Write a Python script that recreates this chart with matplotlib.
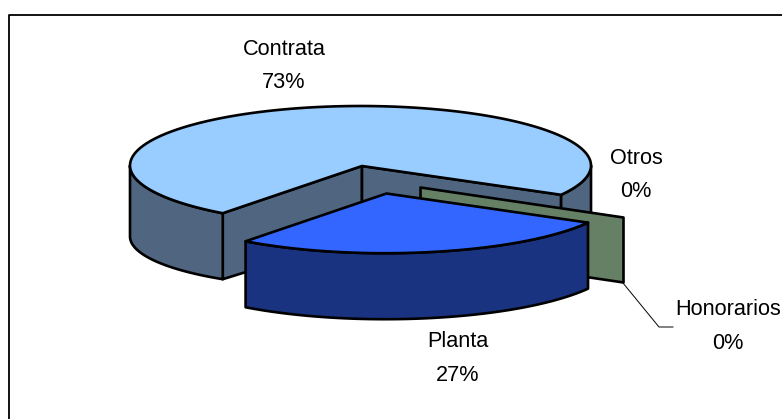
import numpy as np
import matplotlib
matplotlib.use("Agg")
import matplotlib.pyplot as plt
from matplotlib.patches import Polygon

plt.rcParams['font.family'] = ['Liberation Sans', 'DejaVu Sans']

categories = ['Contrata', 'Planta', 'Honorarios', 'Otros']
shares = [73, 27, 0, 0]
pct_labels = ['73%', '27%', '0%', '0%']

top_colors = ['#99CCFF', '#3366FF', '#668066', '#808080']
side_colors = ['#506680', '#1A3380', '#668066', '#506680']

W, H = 782, 419
fig = plt.figure(figsize=(W / 100, H / 100), dpi=100)
ax = fig.add_axes([0, 0, 1, 1])
ax.set_xlim(0, W)
ax.set_ylim(H, 0)
ax.axis('off')

CX, CY, A, B, D = 360.5, 165.5, 230.5, 59.5, 69
START = 29.5   # clockwise from 3 o'clock, where the Planta slice begins
LW = 1.9

planta_span = shares[1] / sum(shares) * 360
a0 = START
a1 = START + planta_span


def rim(t0, t1, ox=0, oy=0, s=1.0, n=120):
    t = np.radians(np.linspace(t0, t1, n))
    return np.column_stack([CX + ox + s * A * np.cos(t), CY + oy + s * B * np.sin(t)])


def poly(pts, fc, z):
    ax.add_patch(Polygon(pts, closed=True, fc=fc, ec='black', lw=LW,
                         joinstyle='round', zorder=z))


def down(pts, d=D):
    d = np.asarray(d, dtype=float)
    return pts + np.column_stack([np.zeros(len(pts)), d * np.ones(len(pts))])


# frame: open on the right and at the bottom
ax.plot([8.5, 8.5, W + 2], [H + 2, 15, 15], color='black', lw=1.3, zorder=1)

# Contrata
apex = np.array([[CX + 1.5, CY + 0.5]])
top_c = rim(a1, 360 + a0)
r_left = top_c[:1]
r_right = top_c[-1:]
poly(np.vstack([apex, r_left, down(r_left, 66), down(apex, 70)]), side_colors[0], 2)
poly(np.vstack([apex, r_right, down(r_right, 68), down(apex, 70)]), side_colors[0], 2)
front_l = rim(a1, 180)
poly(np.vstack([front_l, down(front_l, np.linspace(66, 71, len(front_l)))[::-1]]), side_colors[0], 2)
front_r = rim(0, a0)
poly(np.vstack([front_r, down(front_r)[::-1]]), side_colors[0], 2)
poly(np.vstack([apex, top_c]), top_colors[0], 3)

# Honorarios (a zero-share slice: only its cut face shows)
h_apex = np.array([[420.5, 187.5]])
h_tip = np.array([[623.5, 217.5]])
poly(np.vstack([h_apex, h_tip, down(h_tip, 65), down(h_apex, 65)]), side_colors[2], 4)

# Planta (exploded)
ox, oy = 24.5, 27.5
p_apex = apex + np.array([ox, oy])
top_p = rim(a0, a1, ox, oy, s=1.012)
poly(np.vstack([top_p, down(top_p, 66)[::-1]]), side_colors[1], 5)
poly(np.vstack([p_apex, top_p]), top_colors[1], 6)

# labels
FS = 15.6
kw = dict(ha='center', va='center', fontsize=FS, color='black', linespacing=1.79, zorder=8)
ax.text(284, 66, f"{categories[0]}\n{pct_labels[0]}", **kw)
ax.text(458, 358.5, f"{categories[1]}\n{pct_labels[1]}", **kw)
ax.text(636, 175, f"{categories[3]}\n{pct_labels[3]}", **kw)
ax.text(728, 326.5, f"{categories[2]}\n{pct_labels[2]}", **kw)

# leader
ax.plot([623, 659, 673], [283, 327, 327], color='black', lw=0.7, zorder=7)

fig.savefig('out.png', dpi=100, facecolor='white')
